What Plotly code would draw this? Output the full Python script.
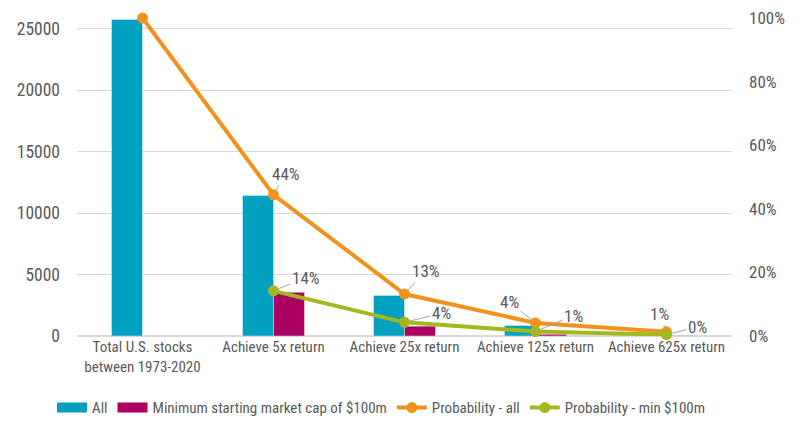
import plotly.graph_objects as go

categories = ["Total U.S. stocks<br>between 1973-2020", "Achieve 5x return",
              "Achieve 25x return", "Achieve 125x return", "Achieve 625x return"]
count_all = [25750, 11420, 3300, 850, 250]
count_min100m = [None, 3560, 800, 140, 30]
prob_all = [1.0, 0.444, 0.132, 0.041, 0.013]
prob_min100m = [None, 0.142, 0.043, 0.014, 0.004]

left_ticks = [0, 5000, 10000, 15000, 20000, 25000]
right_ticks = [0, 0.2, 0.4, 0.6, 0.8, 1.0]

C_TEAL = "#00A0BE"
C_MAG = "#AA0061"
C_ORANGE = "#F0921C"
C_GREEN = "#A3B81E"
TXT = "#595959"
FONT = "Liberation Sans Narrow, Arial Narrow, Roboto Condensed, sans-serif"

fig = go.Figure()
fig.add_bar(x=categories, y=count_all, name="All", marker_color=C_TEAL, showlegend=False)
fig.add_bar(x=categories, y=count_min100m, name="Minimum starting market cap of $100m",
            marker_color=C_MAG, showlegend=False)
# legend swatches for the bars (wide rectangles)
fig.add_scatter(x=[None], y=[None], name="All", mode="lines",
                line=dict(color=C_TEAL, width=10))
fig.add_scatter(x=[None], y=[None], name="Minimum starting market cap of $100m",
                mode="lines", line=dict(color=C_MAG, width=10))
fig.add_scatter(x=categories, y=prob_all, name="Probability - all", yaxis="y2",
                mode="lines+markers", line=dict(color=C_ORANGE, width=4),
                marker=dict(size=11, color=C_ORANGE), cliponaxis=False)
fig.add_scatter(x=categories, y=prob_min100m, name="Probability - min $100m", yaxis="y2",
                mode="lines+markers", line=dict(color=C_GREEN, width=4),
                marker=dict(size=11, color=C_GREEN), cliponaxis=False)

# label offsets (pixels) for each data label
orange_off = [None, (12, -21), (21, -23), (-26, -21), (-7, -18)]
green_off = [None, (32, -13), (37, -9), (38, -16), (31, -8)]

annotations = []
for vals, offs in ((prob_all, orange_off), (prob_min100m, green_off)):
    for i, (v, o) in enumerate(zip(vals, offs)):
        if v is None or o is None:
            continue
        annotations.append(dict(
            x=categories[i], y=v, xref="x", yref="y2",
            text=f"{round(v * 100)}%", showarrow=True, arrowhead=0,
            arrowwidth=1, arrowcolor="#A6A6A6", ax=o[0], ay=o[1],
            standoff=5, startstandoff=0,
            font=dict(size=17, color=TXT, family=FONT)))

fig.update_layout(
    width=800, height=429,
    margin=dict(l=69, r=76, t=10, b=101, autoexpand=False),
    paper_bgcolor="white", plot_bgcolor="white",
    barmode="group", bargap=0.527, bargroupgap=0,
    font=dict(family=FONT, size=15, color=TXT),
    showlegend=True,
    legend=dict(orientation="h", xref="container", x=0.055, xanchor="left",
                y=-0.226, yanchor="middle", itemwidth=30,
                font=dict(size=15, color=TXT, family=FONT), traceorder="normal"),
    xaxis=dict(showgrid=False, showline=False, ticks="", tickfont=dict(size=15)),
    yaxis=dict(range=[0, 25870], tickvals=left_ticks, tickformat="d", showgrid=True,
               gridcolor="#D9D9D9", gridwidth=1, zeroline=True, zerolinecolor="#D9D9D9",
               ticklabelstandoff=16, tickfont=dict(size=17.5), ticklabeloverflow="allow"),
    yaxis2=dict(range=[0, 1], tickvals=right_ticks, tickformat=".0%", overlaying="y",
                side="right", showgrid=False, zeroline=False, ticklabelstandoff=16,
                tickfont=dict(size=17), ticklabeloverflow="allow"),
    annotations=annotations,
)

fig.write_html("out.html")
